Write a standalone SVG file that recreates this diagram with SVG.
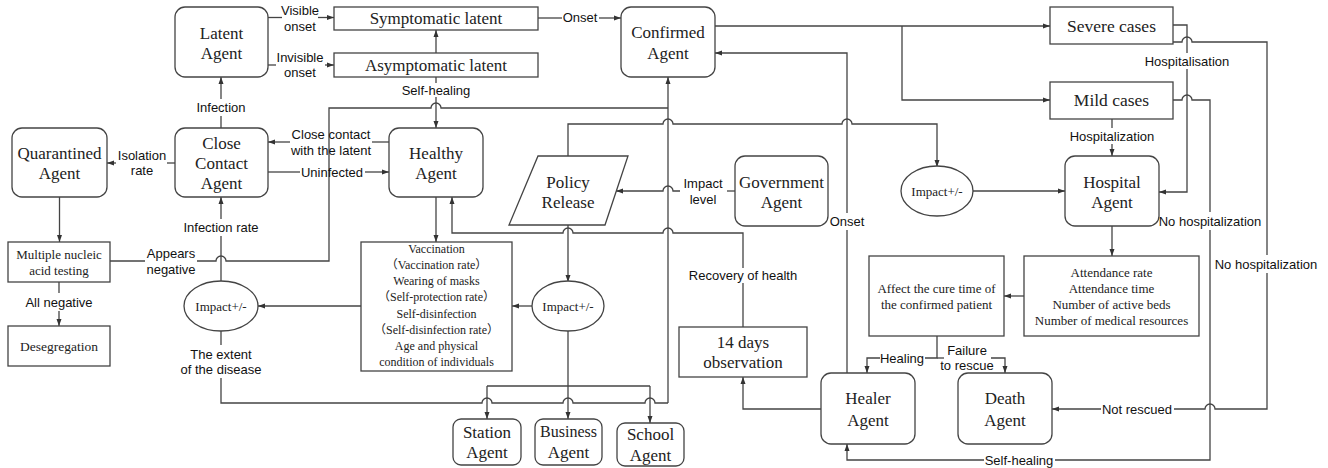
<svg xmlns="http://www.w3.org/2000/svg" width="1328" height="468" viewBox="0 0 1328 468">
<style>
.n{fill:#fff;stroke:#444;stroke-width:1.3}
.t{font-family:"Liberation Serif",serif;font-size:17px;fill:#222;text-anchor:middle;dominant-baseline:central}
.s{font-family:"Liberation Serif","Noto Sans CJK SC",serif;font-size:13px;fill:#222;text-anchor:middle;dominant-baseline:central}
.v{font-family:"Liberation Serif","Noto Sans CJK SC",serif;font-size:12px;fill:#222;text-anchor:middle;dominant-baseline:central}
.l{font-family:"Liberation Sans",sans-serif;font-size:13px;fill:#111;text-anchor:middle;dominant-baseline:central}
.c{fill:none;stroke:#444;stroke-width:1.3}
.a{marker-end:url(#ah)}
</style>
<defs>
<marker id="ah" markerUnits="userSpaceOnUse" markerWidth="8" markerHeight="6" refX="7" refY="3" orient="auto">
<path d="M0,0.5 L7,3 L0,5.5 z" fill="#333"/>
</marker>
</defs>
<rect width="1328" height="468" fill="#fff"/>

<g id="connectors">
<!-- Latent -> symptomatic / asymptomatic -->
<path class="c" d="M268,17.5 H282"/><path class="c a" d="M318,17.5 H334"/>
<path class="c" d="M268,65 H276"/><path class="c a" d="M325,65 H334"/>
<path class="c a" d="M436,53 V30"/>
<path class="c" d="M538,18 H562"/><path class="c a" d="M599,18 H621"/>
<path class="c" d="M436,77 V83"/><path class="c a" d="M436,97 V128"/>
<!-- Appears negative -> Confirmed -->
<path class="c" d="M110,261 H145"/>
<path class="c" d="M197,261 H216 A5,5 0 0 1 226,261 H329 V108 H431 A5,5 0 0 1 441,108 H668"/>
<!-- extent of disease -->
<path class="c" d="M221,331 V345"/>
<path class="c" d="M221,378 V403 H482 A5,5 0 0 1 492,403 H563 A5,5 0 0 1 573,403 H645 A5,5 0 0 1 655,403 H668"/>
<path class="c a" d="M668,403 V77"/>
<!-- infection rate / infection -->
<path class="c" d="M221,282 V236"/><path class="c a" d="M221,219 V197"/>
<path class="c" d="M221,128 V116"/><path class="c a" d="M221,99 V77"/>
<path class="c" d="M175,163 H167"/><path class="c a" d="M116,163 H107"/>
<path class="c" d="M389,142 H372"/><path class="c a" d="M290,142 H268"/>
<path class="c" d="M268,172 H300"/><path class="c a" d="M365,172 H389"/>
<path class="c a" d="M59.5,197 V242"/>
<path class="c" d="M59,282 V293"/><path class="c a" d="M59,311 V326"/>
<path class="c a" d="M436,197 V242"/>
<path class="c a" d="M361,306 H258"/>
<path class="c a" d="M532,306 H512"/>
<path class="c a" d="M568,225 V282"/>
<path class="c a" d="M568,331 V419"/>
<path class="c" d="M487,386 H650"/>
<path class="c a" d="M487,386 V419"/>
<path class="c a" d="M650,386 V423"/>
<!-- Recovery of health -->
<path class="c" d="M743,327 V283"/>
<path class="c a" d="M743,268 V233 H673 A5,5 0 0 0 663,233 H573 A5,5 0 0 0 563,233 H452 V197"/>
<path class="c a" d="M821,409 H743 V377"/>
<!-- Policy -> right impact -->
<path class="c a" d="M568,156 V124 H663 A5,5 0 0 1 673,124 H842 A5,5 0 0 1 852,124 H937 V167"/>
<!-- Impact level -->
<path class="c" d="M735,191 H727"/>
<path class="c a" d="M680,191 H673 A5,5 0 0 0 663,191 H616"/>
<!-- Onset from healer -->
<path class="c" d="M847,373 V230"/><path class="c a" d="M847,213 V53 H715"/>
<!-- Confirmed -> severe / mild -->
<path class="c a" d="M715,26 H1050"/>
<path class="c a" d="M902,26 V100 H1050"/>
<path class="c" d="M1112,119 V128"/><path class="c a" d="M1112,144 V156"/>
<path class="c" d="M1173,25 H1187 V53"/><path class="c a" d="M1187,69 V192 H1159"/>
<path class="c" d="M1173,42 H1182 A5,5 0 0 1 1192,42 H1267 V255"/>
<path class="c" d="M1267,273 V409 H1215 A5,5 0 0 0 1205,409 H1174"/>
<path class="c a" d="M1101,409 H1052"/>
<path class="c" d="M1152,100 H1182 A5,5 0 0 1 1192,100 H1210 V212"/>
<path class="c" d="M1210,230 V460 H1055"/>
<path class="c a" d="M984,460 H847 V444"/>
<path class="c a" d="M973,191 H1065"/>
<path class="c a" d="M1112,226 V256"/>
<path class="c a" d="M1024,296 H1004"/>
<path class="c" d="M937,336 V358 H925"/><path class="c a" d="M880,358 H867 V373"/>
<path class="c" d="M937,358 H944"/><path class="c a" d="M991,358 H1005 V373"/>

<!-- labels -->
<text class="l" x="300" y="10">Visible</text><text class="l" x="300" y="26">onset</text>
<text class="l" x="300" y="57">Invisible</text><text class="l" x="300" y="72">onset</text>
<text class="l" x="580" y="17">Onset</text>
<text class="l" x="436" y="90">Self-healing</text>
<text class="l" x="221" y="107">Infection</text>
<text class="l" x="142" y="155">Isolation</text><text class="l" x="142" y="170">rate</text>
<text class="l" x="331" y="134">Close contact</text><text class="l" x="331" y="150">with the latent</text>
<text class="l" x="332" y="172">Uninfected</text>
<text class="l" x="221" y="227">Infection rate</text>
<text class="l" x="171" y="253">Appears</text><text class="l" x="171" y="269">negative</text>
<text class="l" x="59" y="302">All negative</text>
<text class="l" x="221" y="354">The extent</text><text class="l" x="221" y="369">of the disease</text>
<text class="l" x="703" y="183">Impact</text><text class="l" x="703" y="199">level</text>
<text class="l" x="847" y="221">Onset</text>
<text class="l" x="743" y="275">Recovery of health</text>
<text class="l" x="1187" y="61">Hospitalisation</text>
<text class="l" x="1112" y="136">Hospitalization</text>
<text class="l" x="1210" y="221">No hospitalization</text>
<text class="l" x="1266" y="264">No hospitalization</text>
<text class="l" x="1137" y="409">Not rescued</text>
<text class="l" x="1019" y="460">Self-healing</text>
<text class="l" x="902" y="358">Healing</text>
<text class="l" x="967" y="350">Failure</text><text class="l" x="967" y="365">to rescue</text>
</g>

<g id="latent"><rect class="n" x="175" y="7" width="93" height="70" rx="10"/><text class="t" x="221.5" y="33">Latent</text><text class="t" x="221.5" y="53">Agent</text></g>
<g id="symptomatic"><rect class="n" x="334" y="7" width="204" height="23"/><text class="t" x="436" y="18.5">Symptomatic latent</text></g>
<g id="asymptomatic"><rect class="n" x="334" y="53" width="204" height="24"/><text class="t" x="436" y="65">Asymptomatic latent</text></g>
<g id="confirmed"><rect class="n" x="621" y="7" width="94" height="70" rx="10"/><text class="t" x="668" y="32">Confirmed</text><text class="t" x="668" y="53">Agent</text></g>
<g id="severe"><rect class="n" x="1050" y="7" width="123" height="37"/><text class="t" x="1111.5" y="26" style="font-size:17.5px">Severe cases</text></g>
<g id="mild"><rect class="n" x="1050" y="82" width="123" height="37"/><text class="t" x="1111.5" y="100" style="font-size:17.5px">Mild cases</text></g>
<g id="quarantined"><rect class="n" x="12" y="128" width="95" height="69" rx="10"/><text class="t" x="59.5" y="153">Quarantined</text><text class="t" x="59.5" y="173">Agent</text></g>
<g id="closecontact"><rect class="n" x="175" y="128" width="93" height="69" rx="10"/><text class="t" x="221.5" y="143">Close</text><text class="t" x="221.5" y="163">Contact</text><text class="t" x="221.5" y="183">Agent</text></g>
<g id="healthy"><rect class="n" x="389" y="128" width="94" height="69" rx="10"/><text class="t" x="436" y="153">Healthy</text><text class="t" x="436" y="173">Agent</text></g>
<g id="policy"><polygon class="n" points="538,156 628,156 605,225 509,225"/><text class="t" x="568" y="182">Policy</text><text class="t" x="568" y="202">Release</text></g>
<g id="government"><rect class="n" x="735" y="156" width="93" height="70" rx="10"/><text class="t" x="781.5" y="182">Government</text><text class="t" x="781.5" y="202">Agent</text></g>
<g id="impact-right"><ellipse class="n" cx="937" cy="191" rx="36" ry="25"/><text class="s" x="937" y="191">Impact+/-</text></g>
<g id="hospital"><rect class="n" x="1065" y="156" width="94" height="70" rx="10"/><text class="t" x="1112" y="182">Hospital</text><text class="t" x="1112" y="202">Agent</text></g>
<g id="nucleic"><rect class="n" x="8" y="242" width="102" height="40"/><text class="s" x="59" y="254">Multiple nucleic</text><text class="s" x="59" y="270">acid testing</text></g>
<g id="desegregation"><rect class="n" x="8" y="326" width="102" height="40"/><text class="s" x="59" y="346" style="font-size:13.5px">Desegregation</text></g>
<g id="impact-left"><ellipse class="n" cx="221" cy="306" rx="37" ry="25"/><text class="s" x="221" y="306">Impact+/-</text></g>
<g id="vaccination"><rect class="n" x="361" y="242" width="151" height="129"/>
<text class="v" x="436.5" y="249">Vaccination</text>
<text class="v" x="436.5" y="265">（Vaccination rate）</text>
<text class="v" x="436.5" y="281">Wearing of masks</text>
<text class="v" x="436.5" y="297">（Self-protection rate）</text>
<text class="v" x="436.5" y="314">Self-disinfection</text>
<text class="v" x="436.5" y="330">（Self-disinfection rate）</text>
<text class="v" x="436.5" y="346">Age and physical</text>
<text class="v" x="436.5" y="362">condition of individuals</text></g>
<g id="impact-mid"><ellipse class="n" cx="568" cy="306" rx="36" ry="25"/><text class="s" x="568" y="306">Impact+/-</text></g>
<g id="observation"><rect class="n" x="679" y="327" width="128" height="50"/><text class="t" x="743" y="342">14 days</text><text class="t" x="743" y="362">observation</text></g>
<g id="affect"><rect class="n" x="869" y="256" width="135" height="80"/><text class="s" x="936.5" y="288">Affect the cure time of</text><text class="s" x="936.5" y="304">the confirmed patient</text></g>
<g id="attendance"><rect class="n" x="1024" y="256" width="175" height="80"/><text class="s" x="1111.5" y="272">Attendance rate</text><text class="s" x="1111.5" y="288">Attendance time</text><text class="s" x="1111.5" y="304">Number of active beds</text><text class="s" x="1111.5" y="320">Number of medical resources</text></g>
<g id="healer"><rect class="n" x="821" y="373" width="94" height="71" rx="10"/><text class="t" x="868" y="398">Healer</text><text class="t" x="868" y="420">Agent</text></g>
<g id="death"><rect class="n" x="958" y="373" width="94" height="71" rx="10"/><text class="t" x="1005" y="398">Death</text><text class="t" x="1005" y="420">Agent</text></g>
<g id="station"><rect class="n" x="453" y="419" width="68" height="46" rx="8"/><text class="t" x="487" y="432">Station</text><text class="t" x="487" y="452">Agent</text></g>
<g id="business"><rect class="n" x="535" y="419" width="67" height="46" rx="8"/><text class="t" x="568.5" y="431" style="font-size:16px">Business</text><text class="t" x="568.5" y="452">Agent</text></g>
<g id="school"><rect class="n" x="617" y="423" width="67" height="43" rx="8"/><text class="t" x="650.5" y="434">School</text><text class="t" x="650.5" y="455">Agent</text></g>
</svg>
